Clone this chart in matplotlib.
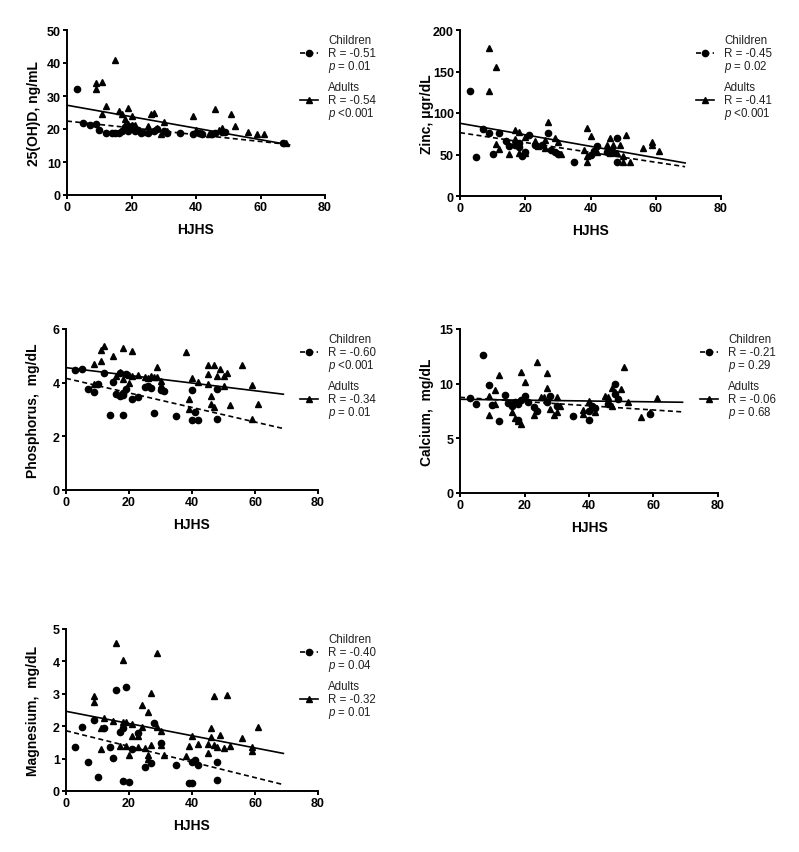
import matplotlib
matplotlib.use('Agg')
import matplotlib.pyplot as plt
from matplotlib.lines import Line2D
import numpy as np

plt.rcParams['font.family'] = ['Liberation Sans', 'DejaVu Sans']
plt.rcParams['mathtext.fontset'] = 'custom'
plt.rcParams['mathtext.rm'] = 'Liberation Sans'
plt.rcParams['mathtext.it'] = 'Liberation Sans:italic'

# ---- data ----
# 25(OH)D
vitd_child_x = [3, 5, 7, 9, 10, 12, 14, 15, 16, 17, 18, 19, 20, 21, 22, 23, 25, 27, 28, 30,
                31, 35, 39, 41, 42, 45, 46, 48, 49, 67]
vitd_child_y = [32, 21.9, 21.2, 21.4, 19.8, 18.8, 18.9, 18.9, 18.9, 19.5, 20.5, 19.5, 20.8, 19.3, 19.8,
                18.8, 18.8, 19.3, 20.0, 19.5, 18.7, 18.7, 18.6, 18.7, 18.5, 18.4, 18.8, 19.2, 19.0, 15.7]
vitd_adult_x = [9, 9, 11, 11, 12, 15, 16, 17, 18, 18, 19, 20, 18, 19, 20, 21, 24, 25, 26, 27,
                28, 29, 30, 31, 39, 40, 42, 44, 46, 47, 48, 51, 52, 56, 59, 61, 68]
vitd_adult_y = [33.9, 32.1, 34.1, 24.5, 27.0, 40.9, 25.4, 24.5, 23.0, 21.2, 26.3, 23.9, 21.0, 21.4, 21.2,
                21.3, 19.0, 20.8, 24.5, 25.0, 20.2, 18.5, 22.2, 19.5, 23.9, 19.8, 18.8, 18.5, 26.2, 19.8,
                20.4, 24.6, 20.8, 19.2, 18.5, 18.4, 15.8]

# Zinc
zinc_child_x = [3, 5, 7, 9, 10, 12, 14, 15, 17, 18, 18, 19, 20, 21, 23, 25, 27, 28, 29, 30,
                35, 40, 41, 42, 45, 47, 48, 48]
zinc_child_y = [126.5, 47.4, 81, 75.5, 50.2, 76.3, 65.9, 60.6, 61.4, 59, 63.5, 48.6, 52.6, 73.1, 61.4,
                61.4, 75.9, 55.8, 52.6, 50.6, 41.4, 49.4, 54.6, 60.6, 53.4, 52.6, 69.5, 41.4]
zinc_adult_x = [9, 11, 9, 11, 12, 15, 17, 18, 17, 18, 20, 20, 23, 24, 26, 27, 26, 29, 30, 31,
                39, 40, 38, 39, 39, 42, 45, 46, 47, 49, 46, 48, 50, 50, 52, 51, 56, 59, 59, 61]
zinc_adult_y = [177.9, 155, 126.9, 63, 56.6, 51, 80, 76.7, 68.7, 52, 52, 70.7, 66, 60.5, 68,
                88.7, 58.2, 69.5, 64.7, 51, 82.3, 72.7, 56, 48, 40.6, 53.4, 61, 69.5, 61, 61,
                52, 52, 48.6, 41.4, 40.6, 73.9, 57.8, 65, 62, 54.6]

# Phosphorus
phos_child_x = [3, 5, 7, 9, 10, 12, 14, 15, 16, 17, 18, 18, 19, 17, 19, 18, 21, 23, 25, 26,
                27, 28, 30, 31, 35, 40, 40, 41, 42, 48, 48]
phos_child_y = [4.47, 4.51, 3.77, 3.64, 3.95, 4.35, 2.78, 4.01, 3.57, 3.52, 3.55, 3.62, 3.78, 4.37, 4.33,
                2.78, 3.40, 3.46, 3.83, 3.89, 3.79, 2.87, 3.72, 3.68, 2.74, 3.74, 2.61, 2.90, 2.61, 3.77,
                2.66]
phos_adult_x = [12, 11, 11, 9, 9, 15, 16, 18, 21, 17, 18, 20, 20, 21, 23, 25, 26, 27, 28, 29,
                29, 30, 30, 38, 40, 39, 39, 42, 45, 47, 45, 45, 46, 46, 47, 49, 48, 50, 51, 50,
                52, 56, 59, 59, 61]
phos_adult_y = [5.38, 5.22, 4.82, 4.70, 3.95, 5.01, 4.24, 5.29, 5.19, 4.40, 4.15, 4.28, 3.98, 4.25, 4.28,
                4.22, 4.18, 4.25, 4.20, 4.57, 4.22, 4.05, 3.92, 5.13, 4.16, 3.40, 3.02, 4.04, 4.66, 4.66,
                4.32, 3.95, 3.52, 3.21, 3.09, 4.51, 4.26, 4.24, 4.36, 3.89, 3.15, 4.66, 3.92, 2.65, 3.21]

# Calcium
calc_child_x = [3, 5, 7, 9, 10, 12, 14, 15, 16, 17, 18, 18, 19, 20, 21, 23, 24, 27, 28, 30,
                35, 40, 40, 41, 42, 46, 48, 48, 49, 59]
calc_child_y = [8.72, 8.18, 12.58, 9.91, 8.09, 6.57, 8.97, 8.24, 8.0, 8.3, 8.1, 6.69, 8.54, 8.85, 8.3,
                7.84, 7.54, 8.36, 8.91, 8.0, 7.02, 6.66, 7.54, 8.0, 7.75, 8.15, 10.0, 9.06, 8.6, 7.23]
calc_adult_x = [9, 9, 11, 12, 11, 16, 17, 18, 19, 19, 20, 23, 24, 27, 27, 25, 26, 28, 29, 30,
                30, 31, 38, 38, 40, 42, 45, 46, 47, 47, 48, 50, 51, 52, 56, 59, 61]
calc_adult_y = [8.85, 7.14, 9.42, 10.79, 8.15, 7.39, 6.9, 6.6, 11.1, 6.32, 10.12, 7.14, 11.95, 10.94, 9.57,
                8.8, 8.75, 7.69, 7.14, 8.75, 7.39, 8.0, 7.6, 7.2, 8.45, 7.45, 8.85, 8.8, 8.0, 9.6,
                9.27, 9.51, 11.55, 8.3, 6.93, 7.45, 8.66]

# Magnesium
mag_child_x = [3, 5, 7, 9, 10, 12, 14, 15, 16, 17, 18, 18, 19, 20, 21, 23, 25, 27, 28, 30,
               35, 39, 40, 40, 41, 42, 48, 48]
mag_child_y = [1.36, 1.99, 0.89, 2.2, 0.44, 1.94, 1.35, 1.01, 3.12, 1.82, 1.95, 0.31, 3.22, 0.28, 1.31,
               1.78, 0.74, 0.87, 2.11, 1.47, 0.79, 0.26, 0.24, 0.91, 0.96, 0.81, 0.91, 0.33]
mag_adult_x = [16, 18, 29, 27, 24, 26, 9, 9, 12, 11, 11, 15, 17, 18, 19, 19, 20, 21, 21, 23,
               23, 24, 25, 26, 26, 27, 29, 30, 30, 31, 38, 39, 40, 42, 45, 45, 46, 46, 47, 47,
               48, 49, 50, 51, 52, 56, 59, 59, 61]
mag_adult_y = [4.56, 4.05, 4.25, 3.02, 2.66, 2.45, 2.94, 2.76, 2.25, 1.94, 1.29, 2.16, 1.38, 2.14, 2.14,
               1.38, 1.11, 1.7, 2.08, 1.70, 1.37, 1.96, 1.34, 1.12, 0.98, 1.41, 1.96, 1.84, 1.42, 1.10,
               1.08, 1.38, 1.71, 1.44, 1.44, 1.18, 1.93, 1.67, 2.94, 1.41, 1.36, 1.72, 1.34, 2.96, 1.39,
               1.65, 1.37, 1.22, 1.99]

# regression lines (intercept, slope) over HJHS 0..69
fit_range = [0, 69]
vitd_fit = {'child': (22.4, -0.103), 'adult': (27.2, -0.174)}
zinc_fit = {'child': (76.3, -0.594), 'adult': (87.6, -0.693)}
phos_fit = {'child': (4.16, -0.0271), 'adult': (4.56, -0.01435)}
calc_fit = {'child': (8.75, -0.0193), 'adult': (8.57, -0.0039)}
mag_fit = {'child': (1.86, -0.0241), 'adult': (2.46, -0.01884)}

# legend stats
vitd_stats = ['R = -0.51', r'$\mathit{p}$ = 0.01', 'R = -0.54', r'$\mathit{p}$ <0.001']
zinc_stats = ['R = -0.45', r'$\mathit{p}$ = 0.02', 'R = -0.41', r'$\mathit{p}$ <0.001']
phos_stats = ['R = -0.60', r'$\mathit{p}$ <0.001', 'R = -0.34', r'$\mathit{p}$ = 0.01']
calc_stats = ['R = -0.21', r'$\mathit{p}$ = 0.29', 'R = -0.06', r'$\mathit{p}$ = 0.68']
mag_stats = ['R = -0.40', r'$\mathit{p}$ = 0.04', 'R = -0.32', r'$\mathit{p}$ = 0.01']

W, H = 799, 853
fig = plt.figure(figsize=(W / 100, H / 100), dpi=100)


def px_axes(left, right, top, bottom):
    return fig.add_axes([left / W, 1 - bottom / H, (right - left) / W, (bottom - top) / H])


def draw_panel(ax, cx, cy, axx, ay, fit, ymax, ystep, ylabel, box):
    left, right, top, bottom = box
    xs = np.array(fit_range, dtype=float)
    a, b = fit['child']
    ax.plot(xs, a + b * xs, color='black', lw=1.2, dashes=(3, 2), zorder=2)
    a, b = fit['adult']
    ax.plot(xs, a + b * xs, color='black', lw=1.2, zorder=2)
    ax.plot(cx, cy, 'o', color='black', ms=4.5, ls='none', zorder=3, clip_on=False)
    ax.plot(axx, ay, '^', color='black', ms=5, ls='none', zorder=3, clip_on=False)

    ax.set_xlim(0, 80)
    ax.set_ylim(0, ymax)
    ax.set_xticks(range(0, 81, 20))
    ax.set_yticks(np.arange(0, ymax + ystep / 2, ystep))
    for s in ['top', 'right']:
        ax.spines[s].set_visible(False)
    for s in ['left', 'bottom']:
        ax.spines[s].set_linewidth(1.4)
    ax.tick_params(direction='out', length=3, width=1.4, pad=1.5, labelsize=9)
    for lab in ax.get_xticklabels() + ax.get_yticklabels():
        lab.set_fontweight('bold')
    ax.set_xlabel('HJHS', fontsize=10, fontweight='bold')
    ax.set_ylabel(ylabel, fontsize=10, fontweight='bold')
    ax.xaxis.set_label_coords(0.5, -27 / (bottom - top))
    ax.yaxis.set_label_coords(-26 / (right - left), 0.5)


def draw_legend(stats, tx, top):
    hx0, hx1 = tx - 28, tx - 10
    mx = (hx0 + hx1) / 2
    rows = [10, 23, 36, 57, 70, 83]
    labels = ['Children', stats[0], stats[1], 'Adults', stats[2], stats[3]]
    for off, lab in zip(rows, labels):
        fig.text(tx / W, 1 - (top + off) / H, lab, fontsize=8.3, color='#222222',
                 ha='left', va='center')
    yc = 1 - (top + rows[1]) / H
    fig.add_artist(Line2D([hx0 / W, hx1 / W], [yc, yc], transform=fig.transFigure,
                          color='black', lw=1.2, dashes=(3, 2)))
    fig.add_artist(Line2D([mx / W], [yc], transform=fig.transFigure, marker='o',
                          ms=4.5, color='black', ls='none'))
    ya = 1 - (top + rows[4]) / H
    fig.add_artist(Line2D([hx0 / W, hx1 / W], [ya, ya], transform=fig.transFigure,
                          color='black', lw=1.2))
    fig.add_artist(Line2D([mx / W], [ya], transform=fig.transFigure, marker='^',
                          ms=5, color='black', ls='none'))


panels = [
    (vitd_child_x, vitd_child_y, vitd_adult_x, vitd_adult_y, vitd_fit, 50, 10, '25(OH)D, ng/mL',
     (67, 325, 31, 196), vitd_stats, 328),
    (zinc_child_x, zinc_child_y, zinc_adult_x, zinc_adult_y, zinc_fit, 200, 50, 'Zinc, \u03bcgr/dL',
     (460, 721, 31, 197), zinc_stats, 724),
    (phos_child_x, phos_child_y, phos_adult_x, phos_adult_y, phos_fit, 6, 2, 'Phosphorus,  mg/dL',
     (66, 318, 330, 491), phos_stats, 328),
    (calc_child_x, calc_child_y, calc_adult_x, calc_adult_y, calc_fit, 15, 5, 'Calcium,  mg/dL',
     (460, 718, 330, 494), calc_stats, 728),
    (mag_child_x, mag_child_y, mag_adult_x, mag_adult_y, mag_fit, 5, 1, 'Magnesium,  mg/dL',
     (66, 318, 630, 792), mag_stats, 328),
]

for cx, cy, axx, ay, fit, ymax, ystep, ylabel, box, stats, tx in panels:
    ax = px_axes(*box)
    draw_panel(ax, cx, cy, axx, ay, fit, ymax, ystep, ylabel, box)
    draw_legend(stats, tx, box[2])

fig.savefig('out.png', dpi=100, facecolor='white')
